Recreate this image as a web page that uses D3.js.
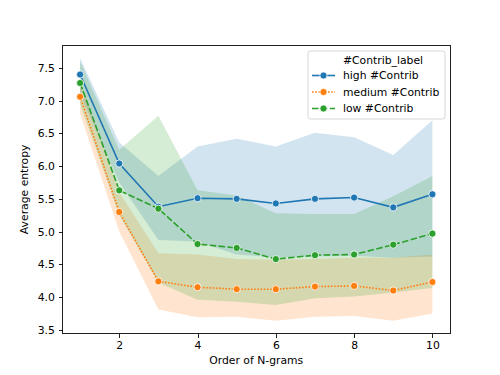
<!DOCTYPE html>
<html>
<head>
<meta charset="utf-8">
<title>Average entropy by N-gram order</title>
<script src="https://d3js.org/d3.v7.min.js"></script>
<style>
 body { margin: 0; background: #fff; }
 text { font-family: "DejaVu Sans", sans-serif; fill: #000; }
 .axis path, .axis line { stroke: #000; shape-rendering: crispEdges; }
 .axis text { font-size: 10.8px; }
 .label { font-size: 10.8px; }
</style>
</head>
<body>
<div id="chart"></div>
<script>
// N-gram orders
var orders = [1, 2, 3, 4, 5, 6, 7, 8, 9, 10];

// high #Contrib
var highMean = [7.40, 6.04, 5.38, 5.51, 5.50, 5.43, 5.50, 5.52, 5.37, 5.57];
var highLow  = [7.10, 5.75, 4.87, 4.85, 4.65, 4.61, 4.62, 4.63, 4.60, 4.62];
var highHigh = [7.65, 6.36, 5.85, 6.30, 6.42, 6.30, 6.51, 6.44, 6.17, 6.70];

// medium #Contrib
var medMean = [7.06, 5.30, 4.24, 4.15, 4.12, 4.12, 4.16, 4.17, 4.10, 4.23];
var medLow  = [6.80, 5.00, 3.81, 3.69, 3.70, 3.64, 3.70, 3.71, 3.64, 3.75];
var medHigh = [7.30, 5.60, 4.67, 4.65, 4.58, 4.57, 4.58, 4.60, 4.60, 4.65];

// low #Contrib
var lowMean = [7.27, 5.63, 5.35, 4.81, 4.75, 4.58, 4.64, 4.65, 4.80, 4.97];
var lowLow  = [6.95, 5.25, 4.22, 3.96, 3.93, 3.88, 3.98, 4.01, 4.07, 4.14];
var lowHigh = [7.60, 6.25, 6.77, 5.63, 5.55, 5.28, 5.27, 5.27, 5.54, 5.85];

var xTicks = [2, 4, 6, 8, 10];
var yTicks = [3.5, 4.0, 4.5, 5.0, 5.5, 6.0, 6.5, 7.0, 7.5];

var series = [
  {name: "high #Contrib", color: "#1f77b4", dash: null, mean: highMean, lo: highLow, hi: highHigh},
  {name: "medium #Contrib", color: "#ff7f0e", dash: "1.6,1.6", mean: medMean, lo: medLow, hi: medHigh},
  {name: "low #Contrib", color: "#2ca02c", dash: "6.5,2.4", mean: lowMean, lo: lowLow, hi: lowHigh}
];

var W = 500, H = 375;
var margin = {top: 45, right: 50, bottom: 41.25, left: 62.5};
var width = W - margin.left - margin.right;
var height = H - margin.top - margin.bottom;

// matplotlib style 5% margins
var xPad = (10 - 1) * 0.05;
var allLo = d3.min(series, function(s) { return d3.min(s.lo); });
var allHi = d3.max(series, function(s) { return d3.max(s.hi); });
var yPad = (allHi - allLo) * 0.05;

var x = d3.scaleLinear().domain([1 - xPad, 10 + xPad]).range([0, width]);
var y = d3.scaleLinear().domain([allLo - yPad, allHi + yPad]).range([height, 0]);

var svg = d3.select("#chart").append("svg")
  .attr("width", W)
  .attr("height", H)
  .append("g")
  .attr("transform", "translate(" + margin.left + "," + margin.top + ")");

// bands first
series.forEach(function(s) {
  var area = d3.area()
    .x(function(d, i) { return x(orders[i]); })
    .y0(function(d, i) { return y(s.lo[i]); })
    .y1(function(d, i) { return y(s.hi[i]); });
  svg.append("path")
    .datum(s.mean)
    .attr("fill", s.color)
    .attr("fill-opacity", 0.2)
    .attr("d", area);
});

// lines + markers
series.forEach(function(s) {
  var line = d3.line()
    .x(function(d, i) { return x(orders[i]); })
    .y(function(d) { return y(d); });
  svg.append("path")
    .datum(s.mean)
    .attr("fill", "none")
    .attr("stroke", s.color)
    .attr("stroke-width", 1.6)
    .attr("stroke-dasharray", s.dash)
    .attr("d", line);
  svg.selectAll(null)
    .data(s.mean)
    .enter().append("circle")
    .attr("cx", function(d, i) { return x(orders[i]); })
    .attr("cy", function(d) { return y(d); })
    .attr("r", 3.6)
    .attr("fill", s.color)
    .attr("stroke", "#fff")
    .attr("stroke-width", 0.8);
});

// axes
var xAxis = svg.append("g")
  .attr("class", "axis")
  .attr("transform", "translate(0," + height + ")")
  .call(d3.axisBottom(x).tickValues(xTicks).tickSizeOuter(0).tickSize(3.8).tickPadding(3.8));
var yAxis = svg.append("g")
  .attr("class", "axis")
  .call(d3.axisLeft(y).tickValues(yTicks).tickFormat(d3.format(".1f")).tickSizeOuter(0).tickSize(3.8).tickPadding(3.8));
svg.selectAll(".axis .domain").remove();
svg.selectAll(".axis line").attr("stroke-width", 0.87);

// spines
svg.append("rect")
  .attr("width", width)
  .attr("height", height)
  .attr("fill", "none")
  .attr("stroke", "#000")
  .attr("stroke-width", 0.87)
  .attr("shape-rendering", "crispEdges");

svg.append("text")
  .attr("class", "label")
  .attr("x", width / 2)
  .attr("y", height + 30)
  .attr("text-anchor", "middle")
  .text("Order of N-grams");

svg.append("text")
  .attr("class", "label")
  .attr("transform", "translate(" + (-35) + "," + (height / 2) + ") rotate(-90)")
  .attr("text-anchor", "middle")
  .text("Average entropy");

// legend
var lg = svg.append("g").attr("transform", "translate(" + (308 - margin.left) + "," + (51 - margin.top) + ")");
lg.append("rect")
  .attr("width", 137)
  .attr("height", 68)
  .attr("rx", 2.5)
  .attr("fill", "#fff")
  .attr("fill-opacity", 0.8)
  .attr("stroke", "#cccccc")
  .attr("stroke-width", 0.8);
lg.append("text")
  .attr("class", "label")
  .attr("x", 35)
  .attr("y", 13)
  .text("#Contrib_label");
series.forEach(function(s, i) {
  var yy = 24.5 + i * 16.5;
  lg.append("line")
    .attr("x1", 4).attr("x2", 27)
    .attr("y1", yy).attr("y2", yy)
    .attr("stroke", s.color)
    .attr("stroke-width", 1.6)
    .attr("stroke-dasharray", s.dash);
  lg.append("circle")
    .attr("cx", 15.5).attr("cy", yy).attr("r", 3.6)
    .attr("fill", s.color)
    .attr("stroke", "#fff")
    .attr("stroke-width", 0.8);
  lg.append("text")
    .attr("class", "label")
    .attr("x", 35)
    .attr("y", yy + 3.9)
    .text(s.name);
});
</script>
</body>
</html>
